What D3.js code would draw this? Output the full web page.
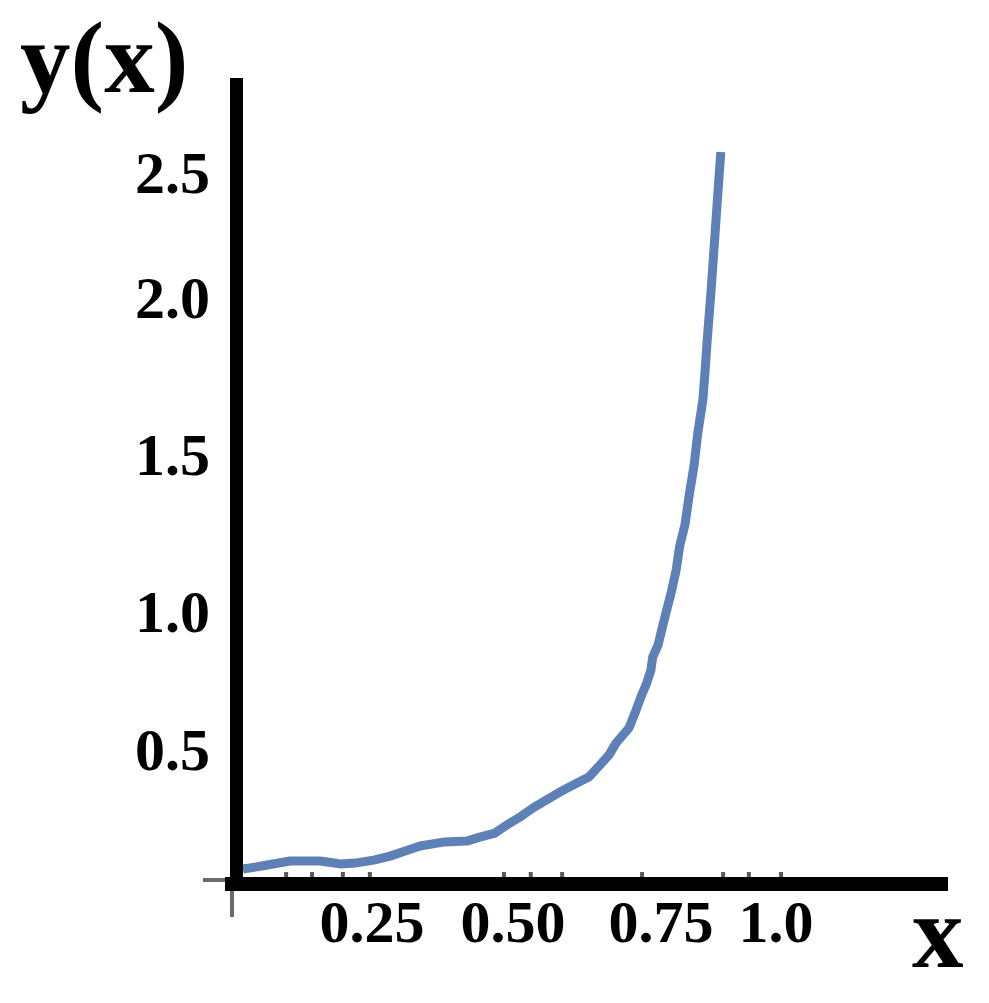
<!DOCTYPE html>
<html>
<head>
<meta charset="utf-8">
<script src="https://cdn.jsdelivr.net/npm/d3@7"></script>
<style>
  html, body { margin: 0; padding: 0; background: #fff; }
  svg { display: block; }
</style>
</head>
<body>
<div id="chart"></div>
<script>
// ---- data ----
const xTickValues = [0.25, 0.5, 0.75, 1.0];
const xTickLabels = ["0.25", "0.50", "0.75", "1.0"];
const yTickValues = [0.5, 1.0, 1.5, 2.0, 2.5];
const yTickLabels = ["0.5", "1.0", "1.5", "2.0", "2.5"];
const xMinorTicks = [0.091, 0.139, 0.196, 0.246, 0.484, 0.530, 0.583, 0.718, 0.885, 0.941, 1.011];

const xs = [0.011, 0.046, 0.098, 0.154, 0.191, 0.219, 0.255, 0.282, 0.309, 0.335, 0.379, 0.418, 0.441, 0.468, 0.486,
            0.512, 0.534, 0.556, 0.579, 0.605, 0.628, 0.647, 0.662, 0.674, 0.696, 0.708, 0.716, 0.726, 0.733, 0.736,
            0.745, 0.752, 0.763, 0.772, 0.783, 0.791, 0.802, 0.811, 0.822, 0.830, 0.841, 0.846, 0.850, 0.859, 0.870, 0.880];
const ys = [0.056, 0.067, 0.086, 0.086, 0.075, 0.078, 0.090, 0.104, 0.123, 0.142, 0.157, 0.160, 0.175, 0.190, 0.216,
            0.250, 0.284, 0.313, 0.343, 0.373, 0.399, 0.444, 0.481, 0.525, 0.580, 0.645, 0.692, 0.743, 0.790, 0.837,
            0.880, 0.938, 1.010, 1.061, 1.134, 1.213, 1.277, 1.369, 1.468, 1.570, 1.675, 1.771, 1.857, 2.032, 2.324, 2.584];

// ---- layout ----
const W = 989, H = 1003;
const svg = d3.select("#chart").append("svg").attr("width", W).attr("height", H);
svg.append("rect").attr("width", W).attr("height", H).attr("fill", "#fff");

const x = d3.scaleLinear().domain([0, 0.25, 0.5, 0.75, 1.0]).range([237, 372, 513, 661, 776]);
const y = d3.scaleLinear().domain([0, 0.5, 1.0, 1.5, 2.0, 2.5]).range([884, 750, 612, 455, 298, 173]);

const serif = "'Liberation Serif', 'Times New Roman', serif";

// curve
const pts = xs.map((v, i) => [v, ys[i]]);
svg.append("path")
  .datum(pts)
  .attr("fill", "none")
  .attr("stroke", "#5d80b6")
  .attr("stroke-width", 9)
  .attr("stroke-linejoin", "round")
  .attr("d", d3.line().x(d => x(d[0])).y(d => y(d[1])));

// minor ticks above x axis
svg.selectAll("rect.minor").data(xMinorTicks).enter().append("rect")
  .attr("class", "minor")
  .attr("x", d => x(d) - 2).attr("y", y(0) - 12)
  .attr("width", 4).attr("height", 6)
  .attr("fill", "#5a5a5a");

// grey origin ticks
svg.append("rect").attr("x", x(0) - 34).attr("y", y(0) - 6).attr("width", 22).attr("height", 4).attr("fill", "#6b6b6b");
svg.append("rect").attr("x", x(0) - 7).attr("y", y(0) + 6).attr("width", 4).attr("height", 27).attr("fill", "#6b6b6b");

// axes (thick black)
svg.append("rect").attr("x", x(0) - 7).attr("y", 78).attr("width", 13).attr("height", y(0) + 7 - 78).attr("fill", "#000");
svg.append("rect").attr("x", x(0) - 12).attr("y", y(0) - 7).attr("width", 948 - (x(0) - 12)).attr("height", 14).attr("fill", "#000");

// tick labels
svg.selectAll("text.ylab").data(yTickValues).enter().append("text")
  .attr("class", "ylab")
  .attr("x", 210).attr("y", d => y(d) + 20)
  .attr("text-anchor", "end")
  .attr("font-family", serif).attr("font-weight", "bold").attr("font-size", 60)
  .attr("fill", "#000")
  .text((d, i) => yTickLabels[i]);

svg.selectAll("text.xlab").data(xTickValues).enter().append("text")
  .attr("class", "xlab")
  .attr("x", d => x(d)).attr("y", 942)
  .attr("text-anchor", "middle")
  .attr("font-family", serif).attr("font-weight", "bold").attr("font-size", 60)
  .attr("fill", "#000")
  .text((d, i) => xTickLabels[i]);

// axis titles
svg.append("text").attr("x", 20).attr("y", 92)
  .attr("font-family", serif).attr("font-weight", "bold").attr("font-size", 101)
  .attr("fill", "#000").text("y(x)");
svg.append("text").attr("x", 912).attr("y", 967)
  .attr("font-family", serif).attr("font-weight", "bold").attr("font-size", 103)
  .attr("fill", "#000").text("x");
</script>
</body>
</html>
